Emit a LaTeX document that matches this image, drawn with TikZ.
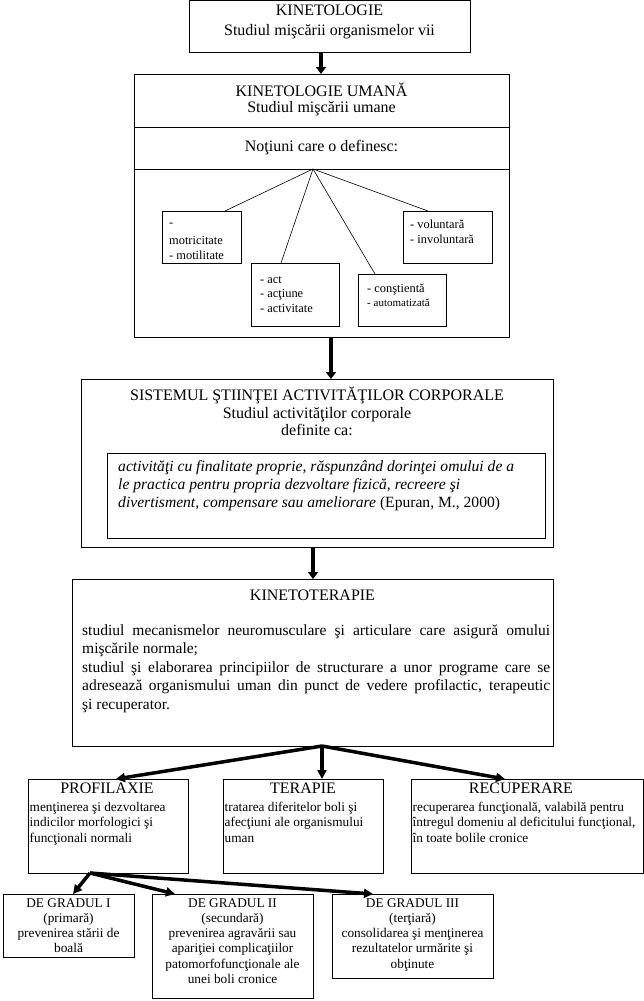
\documentclass[tikz,border=0pt]{standalone}
\usepackage{fontspec}
\setmainfont{Liberation Serif}
\usetikzlibrary{arrows.meta,calc}
\begin{document}
\begin{tikzpicture}[x=1pt,y=-1pt,
  box/.style={draw, line width=0.9pt, inner sep=0pt, outer sep=0pt, anchor=north west},
  ttl/.style={anchor=base, inner sep=0pt, font=\fontsize{16}{19}\selectfont},
  txt/.style={anchor=base west, inner sep=0pt, font=\fontsize{15.5}{18}\selectfont},
  itx/.style={anchor=base west, inner sep=0pt, font=\fontsize{15.6}{18}\itshape},
  sml/.style={anchor=base west, inner sep=0pt, font=\fontsize{12.4}{14}\selectfont},
  bod/.style={anchor=base west, inner sep=0pt, font=\fontsize{13.3}{15}\selectfont},
  gt/.style={anchor=base, inner sep=0pt, font=\fontsize{13.3}{15}\selectfont},
  thin/.style={line width=0.6pt},
  bigarrow/.style={line width=4.5pt, -{Triangle[length=7pt,width=10pt]}},
  fanarrow/.style={line width=3.5pt, -{Triangle[length=9pt,width=9pt]}}
]
\fill[white] (0,0) rectangle (644,1001);
\useasboundingbox (0,0) rectangle (644,1001);

% ---------- boxes ----------
\node[box, minimum width=281pt, minimum height=52pt] (k1) at (189,0) {};
\node[box, minimum width=375pt, minimum height=263pt] (k2) at (134,74) {};
\node[box, minimum width=79pt, minimum height=52pt] (m1) at (162,211) {};
\node[box, minimum width=88pt, minimum height=63pt] (m2) at (251,263) {};
\node[box, minimum width=88pt, minimum height=52pt] (m3) at (358,274) {};
\node[box, minimum width=89pt, minimum height=52pt] (m4) at (403,211) {};
\node[box, minimum width=472pt, minimum height=168pt] (k3) at (81,379) {};
\node[box, minimum width=438pt, minimum height=85pt] (k3i) at (107,453) {};
\node[box, minimum width=481pt, minimum height=167pt] (k4) at (72,579) {};
\node[box, minimum width=160pt, minimum height=94pt] (p1) at (28,779) {};
\node[box, minimum width=160pt, minimum height=94pt] (p2) at (223,779) {};
\node[box, minimum width=232pt, minimum height=94pt] (p3) at (411,779) {};
\node[box, minimum width=131pt, minimum height=63pt] (g1) at (3,894) {};
\node[box, minimum width=161pt, minimum height=104pt] (g2) at (152,894) {};
\node[box, minimum width=161pt, minimum height=84pt] (g3) at (332,894) {};

% separators in KINETOLOGIE UMANA
\draw[line width=0.9pt] ([yshift=-53pt]k2.north west) -- ([yshift=-53pt]k2.north east);
\draw[line width=0.9pt] ([yshift=-95pt]k2.north west) -- ([yshift=-95pt]k2.north east);

% ---------- texts ----------
\node[ttl] (t1a) at (329.5,16) {KINETOLOGIE};
\node[ttl] (t1b) at (329.5,35) {Studiul mişcării organismelor vii};

\node[ttl] (t2a) at (321.5,96) {KINETOLOGIE UMANĂ};
\node[ttl] (t2b) at (321.5,112) {Studiul mişcării umane};
\node[ttl] (t2c) at (321.5,151) {Noţiuni care o definesc:};

\node[sml] (m1a) at (169,226) {-};
\node[sml] (m1b) at (169,244) {motricitate};
\node[sml] (m1c) at (169,259) {- motilitate};
\node[sml] (m4a) at (410,228) {- voluntară};
\node[sml] (m4b) at (410,243) {- involuntară};
\node[sml] (m2a) at (260,283) {- act};
\node[sml] (m2b) at (260,297.5) {- acţiune};
\node[sml] (m2c) at (260,312) {- activitate};
\node[sml] (m3a) at (367,292) {- conştientă};
\node[sml, font=\fontsize{11}{13}\selectfont] (m3b) at (367,306) {- automatizată};

\node[ttl] (t3a) at (317,400) {SISTEMUL ŞTIINŢEI ACTIVITĂŢILOR CORPORALE};
\node[ttl] (t3b) at (317,418) {Studiul activităţilor corporale};
\node[ttl] (t3c) at (317,435) {definite ca:};
\node[itx] (i1) at (118,471) {activităţi cu finalitate proprie, răspunzând dorinţei omului de a};
\node[itx] (i2) at (118,489) {le practica pentru propria dezvoltare fizică, recreere şi};
\node[itx] (i3) at (118,507) {divertisment, compensare sau ameliorare \upshape(Epuran, M., 2000)};

\node[ttl] (t4) at (312.5,600) {KINETOTERAPIE};
\node[txt] (b1) at (82,635) {\makebox[468pt][s]{studiul mecanismelor neuromusculare şi articulare care asigură omului}};
\node[txt] (b2) at (82,653.5) {mişcările normale;};
\node[txt] (b3) at (82,672) {\makebox[468pt][s]{studiul şi elaborarea principiilor de structurare a unor programe care se}};
\node[txt] (b4) at (82,690.5) {\makebox[468pt][s]{adresează organismului uman din punct de vedere profilactic, terapeutic}};
\node[txt] (b5) at (82,709) {şi recuperator.};

\node[ttl] (p1t) at (107,793) {PROFILAXIE};
\node[bod] (p1a) at (29.5,811) {menţinerea şi dezvoltarea};
\node[bod] (p1b) at (29.5,826.5) {indicilor morfologici şi};
\node[bod] (p1c) at (29.5,842) {funcţionali normali};

\node[ttl] (p2t) at (303,793) {TERAPIE};
\node[bod] (p2a) at (224.5,811) {tratarea diferitelor boli şi};
\node[bod] (p2b) at (224.5,826.5) {afecţiuni ale organismului};
\node[bod] (p2c) at (224.5,842) {uman};

\node[ttl] (p3t) at (521,793) {RECUPERARE};
\node[bod] (p3a) at (412.5,811) {recuperarea funcţională, valabilă pentru};
\node[bod] (p3b) at (412.5,826.5) {întregul domeniu al deficitului funcţional,};
\node[bod] (p3c) at (412.5,842) {în toate bolile cronice};

\foreach \s [count=\i] in {DE GRADUL I,(primară),prevenirea stării de,boală}
  \node[gt] (g1t\i) at (68.5,{907+15.3*(\i-1)}) {\s};
\foreach \s [count=\i] in {DE GRADUL II,(secundară),prevenirea agravării sau,apariţiei complicaţiilor,patomorfofuncţionale ale,unei boli cronice}
  \node[gt] (g2t\i) at (232.5,{907+15.3*(\i-1)}) {\s};
\foreach \s [count=\i] in {DE GRADUL III,(terţiară),consolidarea şi menţinerea,rezultatelor urmărite şi,obţinute}
  \node[gt] (g3t\i) at (412.5,{907+15.3*(\i-1)}) {\s};

% ---------- connectors ----------
\draw[bigarrow] ([xshift=-8.5pt]k1.south) -- ([xshift=-8.5pt]k1.south |- k2.north);
\draw[bigarrow] ([xshift=9.5pt]k2.south) -- ([xshift=9.5pt]k2.south |- k3.north);
\draw[bigarrow] ([xshift=-4pt]k3.south) -- ([xshift=-4pt]k3.south |- k4.north);

\coordinate (ap) at ([xshift=-8.5pt,yshift=-95pt]k2.north);
\draw[thin] (ap) -- ([xshift=23.5pt]m1.north);
\draw[thin] (ap) -- ([xshift=-14pt]m2.north);
\draw[thin] (ap) -- ([xshift=-27pt]m3.north);
\draw[thin] (ap) -- ([xshift=-19.5pt]m4.north);

\coordinate (fk) at ([xshift=9.5pt]k4.south);
\draw[fanarrow] (fk) -- ([xshift=8pt]p1.north);
\draw[fanarrow] (fk) -- ([xshift=19pt]p2.north);
\draw[fanarrow] (fk) -- ([xshift=-22pt]p3.north);

\coordinate (fp) at ([xshift=-18pt]p1.south);
\draw[fanarrow] (fp) -- ([xshift=4.5pt]g1.north);
\draw[fanarrow] (fp) -- ([xshift=-57.5pt]g2.north);
\draw[fanarrow] (fp) -- ([xshift=-39.5pt]g3.north);
\end{tikzpicture}
\end{document}
